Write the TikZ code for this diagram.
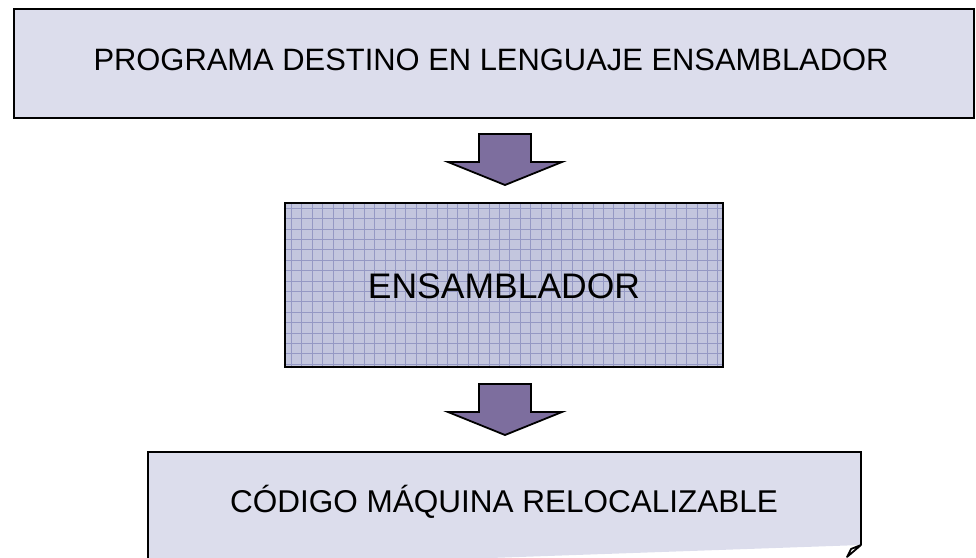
\documentclass[tikz,border=0pt]{standalone}
\usepackage{fontspec}
\setmainfont{Liberation Sans}
\usetikzlibrary{positioning}

\definecolor{paleblue}{HTML}{DCDDEC}
\definecolor{gridblue}{HTML}{C3C6DE}
\definecolor{gridline}{HTML}{9599C4}
\definecolor{arrowpurple}{HTML}{7D6E9E}

\tikzset{
    box/.style={draw, line width=2.6pt, inner sep=0pt},
    downarrow/.pic={
        \draw[fill=arrowpurple, line width=1.8pt, line join=miter]
            (-26,0) -- (26,0) -- (26,28) -- (57,28) -- (0,51) -- (-57,28) -- (-26,28) -- cycle;
    }
}

\begin{document}
\begin{tikzpicture}[x=1pt, y=-1pt]
    \useasboundingbox (0,0) rectangle (976,557);
    \clip (0,0) rectangle (976,557);

    % source program
    \node[box, fill=paleblue, minimum width=960pt, minimum height=109pt] (src) at (494,63.5) {};
    \node[font=\fontsize{30.9}{36}\selectfont] (srctext) at (491,60) {PROGRAMA DESTINO EN LENGUAJE ENSAMBLADOR};

    \pic at (505,134) {downarrow};

    % assembler
    \node[box, fill=gridblue, minimum width=438pt, minimum height=164pt] (asm) at (504,285) {};
    \begin{scope}
        \clip (asm.south west) rectangle (asm.north east);
        \draw[gridline, line width=0.6pt, step=10.4pt] (asm.south west) grid (asm.north east);
    \end{scope}
    \node[box, minimum width=438pt, minimum height=164pt] at (asm) {};
    \node[font=\fontsize{35.5}{42}\selectfont] (asmtext) at (504,286) {ENSAMBLADOR};

    \pic at (505,384) {downarrow};

    % relocatable machine code
    \filldraw[fill=paleblue, line width=2.6pt]
        (148,570) -- (148,452) -- (861,452) -- (861,545);
    \draw[fill=white, line width=1.8pt, line join=round] (861,545) -- (851,549) -- (847,557) -- cycle;
    \node[font=\fontsize{31.5}{37}\selectfont] (objtext) at (504,502) {CÓDIGO MÁQUINA RELOCALIZABLE};
\end{tikzpicture}
\end{document}
